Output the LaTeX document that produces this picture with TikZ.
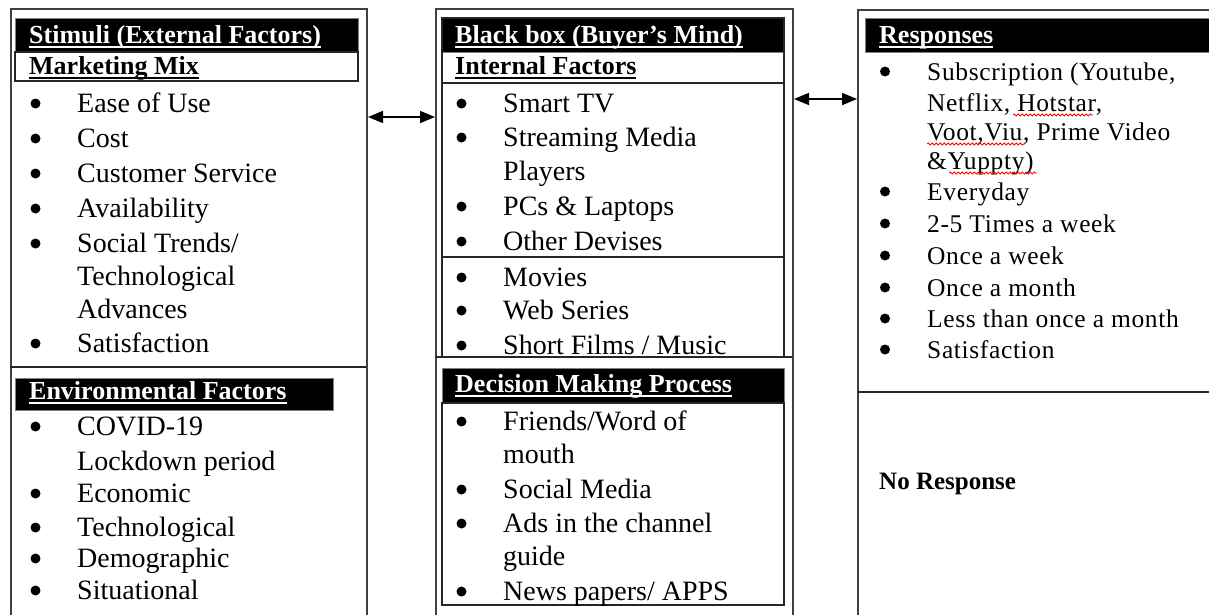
\documentclass[tikz,border=0pt]{standalone}
\usepackage{fontspec}
\setmainfont{Liberation Serif}
\usetikzlibrary{arrows.meta,decorations.pathmorphing}
\newcommand\ulin[1]{\setbox0\hbox{#1}\rlap{\rule[-4.5pt]{\wd0}{1.8pt}}\box0}
% #1 style, #2 name, #3 position of text, #4 bullet offset, #5 text
\newcommand\bitem[5]{\node[#1] (#2) at (#3) {#5};\fill (#2.base west) ++(#4,-8.5) circle (5pt);}
\tikzset{
 body/.style={anchor=base west, inner sep=0pt, font=\fontsize{28}{32}\selectfont},
 rbody/.style={anchor=base west, inner sep=0pt, font=\fontsize{25.5}{30}\selectfont\addfontfeature{LetterSpace=2.5}},
 hdr/.style={anchor=base west, inner sep=0pt, text=white, font=\fontsize{26}{30}\selectfont\bfseries},
 sub/.style={anchor=base west, inner sep=0pt, font=\fontsize{26}{30}\selectfont\bfseries},
 outerbox/.style={draw=black!75, line width=2pt, anchor=north west, inner sep=0pt},
 bar/.style={fill=black, draw=black!50, line width=1pt},
 rul/.style={draw=black!85, line width=1.8pt},
 conn/.style={line width=1.6pt, {Triangle[length=15pt,width=12pt]}-{Triangle[length=15pt,width=12pt]}},
 squig/.style={red, line width=0.8pt, decorate, decoration={snake, amplitude=1.1pt, segment length=4pt}}
}
\begin{document}
\begin{tikzpicture}[x=1pt,y=-1pt]
\useasboundingbox (0,0) rectangle (1209,614);
\fill[white] (0,0) rectangle (1209,614);
% outer boxes
\node[outerbox, minimum width=356pt, minimum height=640pt] (L) at (10,8) {};
\node[outerbox, minimum width=357pt, minimum height=640pt] (M) at (435,8) {};
\node[outerbox, minimum width=420pt, minimum height=640pt] (R) at (857,9) {};
% left column frames
\draw[bar] (15,18) rectangle (358,52);
\draw[rul] (15,52) rectangle (358,81);
\draw[rul] (10,367) -- (366,367);
\draw[bar] (15,378) rectangle (333,410);
% middle column frames
\draw[bar] (442,18) rectangle (784,52);
\draw[rul] (442,18) rectangle (784,357);
\draw[rul] (442,83) -- (784,83);
\draw[rul] (442,257) -- (784,257);
\draw[rul] (435,357) -- (792,357);
\draw[bar] (442,368) rectangle (784,403);
\draw[rul] (442,403) rectangle (784,605);
% right column frames
\draw[bar] (865,18) rectangle (1230,52);
\draw[rul] (857,392) -- (1230,392);
% headers
\node[hdr] (h1) at (29,43) {\ulin{Stimuli (External Factors)}};
\node[sub] (s1) at (29,74) {\ulin{Marketing Mix}};
\node[hdr] (h2) at (29,399) {\ulin{Environmental Factors}};
\node[hdr] (h3) at (455,43) {\ulin{Black box (Buyer’s Mind)}};
\node[sub] (s3) at (455,74) {\ulin{Internal Factors}};
\node[hdr] (h4) at (455,392) {\ulin{Decision Making Process}};
\node[hdr] (h5) at (879,43) {\ulin{Responses}};
% left items
\bitem{body}{l1}{77,112}{-41.5}{Ease of Use}
\bitem{body}{l2}{77,147}{-41.5}{Cost}
\bitem{body}{l3}{77,182}{-41.5}{Customer Service}
\bitem{body}{l4}{77,217}{-41.5}{Availability}
\bitem{body}{l5}{77,252}{-41.5}{Social Trends/}
\node[body] (l6) at (77,285) {Technological};
\node[body] (l7) at (77,318) {Advances};
\bitem{body}{l8}{77,352}{-41.5}{Satisfaction}
\bitem{body}{e1}{77,435}{-41.5}{COVID-19}
\node[body] (e2) at (77,470) {Lockdown period};
\bitem{body}{e3}{77,502}{-41.5}{Economic}
\bitem{body}{e4}{77,536}{-41.5}{Technological}
\bitem{body}{e5}{77,567}{-41.5}{Demographic}
\bitem{body}{e6}{77,599}{-41.5}{Situational}
% middle items
\bitem{body}{m1}{503,112}{-41.5}{Smart TV}
\bitem{body}{m2}{503,146}{-41.5}{Streaming Media}
\node[body] (m3) at (503,180) {Players};
\bitem{body}{m4}{503,215}{-41.5}{PCs \& Laptops}
\bitem{body}{m5}{503,250}{-41.5}{Other Devises}
\bitem{body}{m6}{503,286}{-41.5}{Movies}
\bitem{body}{m7}{503,319}{-41.5}{Web Series}
\begin{scope}
\clip (443,260) rectangle (783,356);
\bitem{body}{m8}{503,354}{-41.5}{Short Films / Music}
\end{scope}
\bitem{body}{d1}{503,430}{-41.5}{Friends/Word of}
\node[body] (d2) at (503,463) {mouth};
\bitem{body}{d3}{503,498}{-41.5}{Social Media}
\bitem{body}{d4}{503,532}{-41.5}{Ads in the channel}
\node[body] (d5) at (503,565) {guide};
\bitem{body}{d6}{503,600}{-41.5}{News papers/ APPS}
% right items
\bitem{rbody}{r1}{927,80}{-42}{Subscription (Youtube,}
\node[rbody] (r2) at (927,111) {Netflix, Hotstar,};
\node[rbody] (r3) at (927,140) {Voot,Viu, Prime Video};
\node[rbody] (r4) at (927,169) {\&Yuppty)};
\bitem{rbody}{r5}{927,200}{-42}{Everyday}
\bitem{rbody}{r6}{927,232}{-42}{2-5 Times a week}
\bitem{rbody}{r7}{927,264}{-42}{Once a week}
\bitem{rbody}{r8}{927,296}{-42}{Once a month}
\bitem{rbody}{r9}{927,327}{-42}{Less than once a month}
\bitem{rbody}{r10}{927,358}{-42}{Satisfaction}
\node[sub, font=\fontsize{25}{30}\selectfont\bfseries] (nr) at (879,489) {No Response};
% spell-check marks
\draw[squig] (1013,115) -- (1093,115);
\draw[squig] (927,144) -- (1025,144);
\draw[squig] (949,173) -- (1037,173);
% connectors
\coordinate (a1) at (0,117);
\coordinate (a2) at (0,99);
\draw[conn] (L.east |- a1) -- (M.west |- a1);
\draw[conn] (M.east |- a2) -- (R.west |- a2);
\end{tikzpicture}
\end{document}
